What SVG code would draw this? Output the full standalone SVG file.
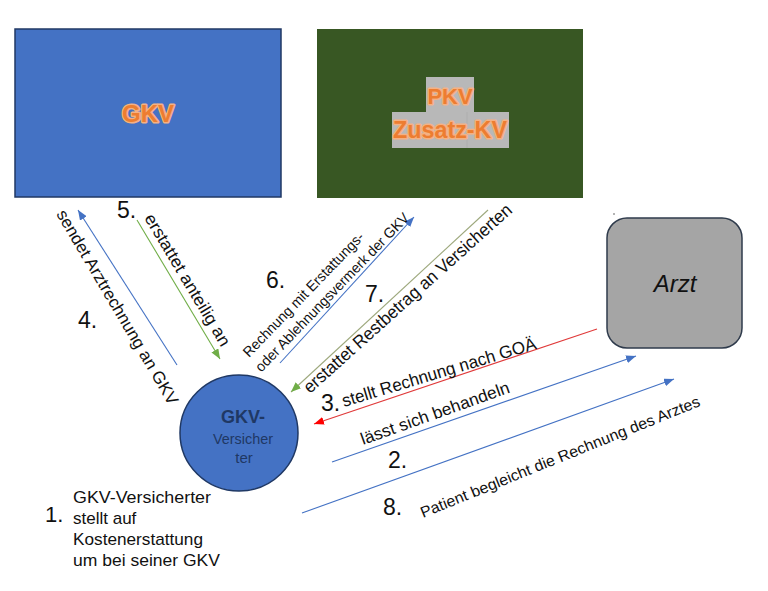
<svg xmlns="http://www.w3.org/2000/svg" width="768" height="591" viewBox="0 0 768 591">
<style>
  text { font-family: "Liberation Sans", "DejaVu Sans", sans-serif; fill: #111; }
  .num { font-size: 23px; }
  .title { font-weight: bold; fill: #ED7D31; stroke: #F4B183; stroke-width: 3; paint-order: stroke fill; stroke-linejoin: round; }
  .conn { fill: none; stroke-width: 1.1; }
  .inner { fill: #1F3864; }
</style>
<defs>
  <marker id="ahBlue" viewBox="0 0 10 8" refX="10" refY="4" markerWidth="10" markerHeight="8" markerUnits="userSpaceOnUse" orient="auto"><path d="M0,0 L10,4 L0,8 z" fill="#4472C4"/></marker>
  <marker id="ahGreen" viewBox="0 0 10 8" refX="10" refY="4" markerWidth="10" markerHeight="8" markerUnits="userSpaceOnUse" orient="auto"><path d="M0,0 L10,4 L0,8 z" fill="#70AD47"/></marker>
  <marker id="ahRed" viewBox="0 0 10 8" refX="10" refY="4" markerWidth="10" markerHeight="8" markerUnits="userSpaceOnUse" orient="auto"><path d="M0,0 L10,4 L0,8 z" fill="#FF0000"/></marker>
</defs>
<rect width="768" height="591" fill="#FFFFFF"/>

<g id="gkv">
  <rect x="15" y="29" width="266" height="168" fill="#4472C4" stroke="#203864" stroke-width="1.5"/>
  <text class="title" x="148" y="122" font-size="24" text-anchor="middle">GKV</text>
</g>

<g id="pkv">
  <rect x="317" y="29" width="266" height="169" fill="#385723"/>
  <rect x="426" y="77" width="48" height="35" fill="#B8B8B8"/>
  <rect x="392" y="112" width="117" height="36" fill="#B8B8B8"/>
  <line x1="467" y1="112" x2="467" y2="148" stroke="#A8A8A8" stroke-width="0.6"/>
  <text class="title" x="450" y="104" font-size="22" text-anchor="middle">PKV</text>
  <text class="title" x="450" y="138" font-size="23" text-anchor="middle" textLength="114" lengthAdjust="spacingAndGlyphs">Zusatz-KV</text>
</g>

<g id="arzt">
  <rect x="607" y="218" width="135" height="130" rx="20" ry="20" fill="#A5A5A5" stroke="#2F3B4C" stroke-width="1.5"/>
  <text x="675" y="292" font-size="24" font-style="italic" text-anchor="middle">Arzt</text>
  <circle cx="614" cy="214" r="0.8" fill="#555"/>
</g>

<g id="versicherter">
  <ellipse cx="239" cy="433" rx="59" ry="58" fill="#4472C4" stroke="#1F3864" stroke-width="1.5"/>
  <text class="inner" x="243" y="423" font-size="18" font-weight="bold" text-anchor="middle">GKV-</text>
  <text class="inner" x="243" y="444" font-size="15" text-anchor="middle" textLength="60" lengthAdjust="spacingAndGlyphs">Versicher</text>
  <text class="inner" x="244" y="463" font-size="15" text-anchor="middle">ter</text>
</g>

<g id="step1">
  <text x="45" y="522" font-size="22">1.</text>
  <text x="73" y="503" font-size="17" textLength="138" lengthAdjust="spacingAndGlyphs">GKV-Versicherter</text>
  <text x="73" y="524" font-size="17">stellt auf</text>
  <text x="73" y="545" font-size="17" textLength="130" lengthAdjust="spacingAndGlyphs">Kostenerstattung</text>
  <text x="73" y="566" font-size="17" textLength="147" lengthAdjust="spacingAndGlyphs">um bei seiner GKV</text>
</g>

<g id="connectors">
  <line class="conn" x1="177" y1="365" x2="78" y2="210" stroke="#4472C4" marker-end="url(#ahBlue)"/>
  <line class="conn" x1="137" y1="220" x2="220" y2="359" stroke="#70AD47" marker-end="url(#ahGreen)"/>
  <line class="conn" x1="280" y1="363" x2="414" y2="217" stroke="#4472C4" marker-end="url(#ahBlue)"/>
  <line class="conn" x1="488" y1="210" x2="291" y2="392" stroke="#9DA87C" marker-end="url(#ahGreen)"/>
  <line class="conn" x1="597" y1="329" x2="314" y2="424" stroke="#E03A3A" marker-end="url(#ahRed)"/>
  <line class="conn" x1="332" y1="462" x2="636" y2="356" stroke="#4472C4" marker-end="url(#ahBlue)"/>
  <line class="conn" x1="302" y1="513" x2="674" y2="379" stroke="#4472C4" marker-end="url(#ahBlue)"/>
</g>

<g id="labels">
  <text class="num" x="78" y="328">4.</text>
  <text class="num" x="117" y="218">5.</text>
  <text class="num" x="266" y="288">6.</text>
  <text class="num" x="365" y="302">7.</text>
  <text class="num" x="321" y="411" font-size="25">3.</text>
  <text class="num" x="388" y="468">2.</text>
  <text class="num" x="383" y="515">8.</text>

  <text transform="translate(56,214) rotate(59.5)" font-size="17" textLength="223" lengthAdjust="spacingAndGlyphs">sendet Arztrechnung an GKV</text>
  <text transform="translate(144,218) rotate(59.2)" font-size="17" textLength="151" lengthAdjust="spacingAndGlyphs">erstattet anteilig an</text>
  <g transform="translate(249,358) rotate(-46)">
    <text x="0" y="0" font-size="14.5" textLength="167" lengthAdjust="spacingAndGlyphs">Rechnung mit Erstattungs-</text>
    <text x="-2" y="19" font-size="14.5" textLength="214" lengthAdjust="spacingAndGlyphs">oder Ablehnungsvermerk der GKV</text>
  </g>
  <text transform="translate(310,394) rotate(-41.9)" font-size="18" textLength="273" lengthAdjust="spacingAndGlyphs">erstattet Restbetrag an Versicherten</text>
  <text transform="translate(344,407) rotate(-16.8)" font-size="17.5" textLength="202" lengthAdjust="spacingAndGlyphs">stellt Rechnung nach GOÄ</text>
  <text transform="translate(363,445) rotate(-19.6)" font-size="17" textLength="157" lengthAdjust="spacingAndGlyphs">lässt sich behandeln</text>
  <text transform="translate(423,518) rotate(-22)" font-size="15.5" textLength="300" lengthAdjust="spacingAndGlyphs">Patient begleicht die Rechnung des Arztes</text>
</g>
</svg>
